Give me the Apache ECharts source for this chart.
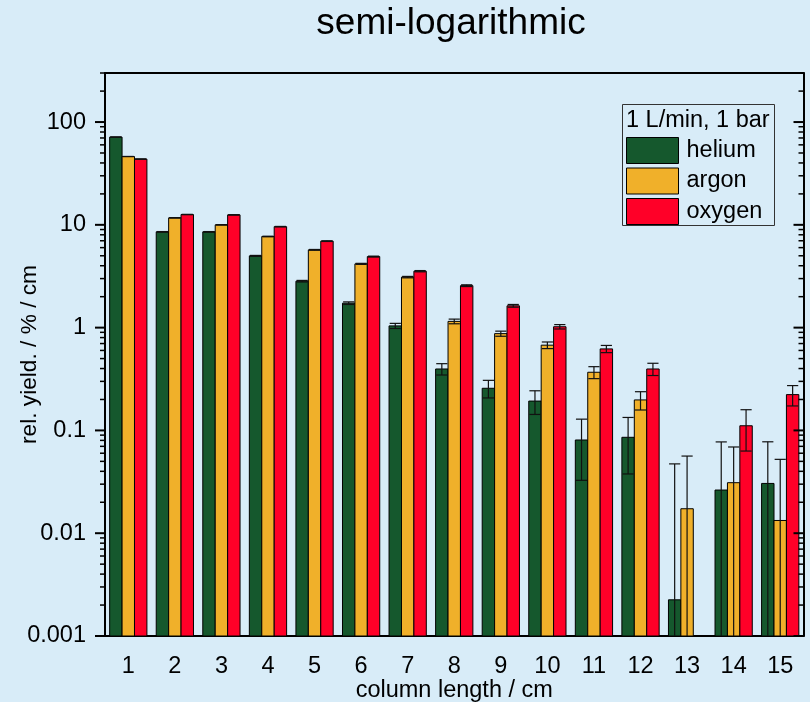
<!DOCTYPE html>
<html>
<head>
<meta charset="utf-8">
<script src="https://cdn.jsdelivr.net/npm/echarts@6/dist/echarts.min.js"></script>
<style>
  html, body { margin: 0; padding: 0; background: #d8ecf8; }
  #chart { width: 810px; height: 702px; }
</style>
</head>
<body>
<div id="chart"></div>
<script>
// Column lengths (cm)
const categories = ['1', '2', '3', '4', '5', '6', '7', '8', '9', '10', '11', '12', '13', '14', '15'];

// Relative yield per cm (%)
const helium = [71.4, 8.55, 8.55, 4.99, 2.83, 1.73, 1.04, 0.396, 0.257, 0.193, 0.0807, 0.0857, 0.00225, 0.0263, 0.0305];
const argon  = [46.2, 11.7, 10.0, 7.7, 5.71, 4.17, 3.10, 1.15, 0.874, 0.675, 0.368, 0.198, 0.0173, 0.0310, 0.0133];
const oxygen = [43.6, 12.6, 12.5, 9.6, 6.94, 4.91, 3.54, 2.56, 1.63, 1.02, 0.621, 0.396, null, 0.111, 0.223];

// Absolute errors of the yields
const heliumErr = [0.05, 0.05, 0.05, 0.05, 0.05, 0.05, 0.06, 0.05, 0.05, 0.05, 0.048, 0.048, 0.045, 0.051, 0.047];
const argonErr  = [0.05, 0.05, 0.05, 0.05, 0.05, 0.05, 0.05, 0.06, 0.05, 0.05, 0.049, 0.04, 0.039, 0.038, 0.039];
const oxygenErr = [0.05, 0.05, 0.05, 0.05, 0.05, 0.05, 0.05, 0.05, 0.05, 0.05, 0.05, 0.054, null, 0.048, 0.05];

// Log axis range, decade ticks and their labels
const yMin = 0.001;
const yMax = 300;
const decades = [0.001, 0.01, 0.1, 1, 10, 100];
const decadeLabels = ['0.001', '0.01', '0.1', '1', '10', '100'];
const minorMultiples = [2, 3, 4, 5, 6, 7, 8, 9];

const colors = { helium: '#15582d', argon: '#f0b02a', oxygen: '#ff0028' };
const FONT = '"Liberation Sans", Arial, Helvetica, sans-serif';
const FS = 23.5;

// Frame ticks: [x, value, isMajor]
const frameTicks = [];
decades.forEach(d => {
  frameTicks.push([0, d, 1]);
  minorMultiples.forEach(m => {
    const v = d * m;
    if (v <= yMax * 1.0001) frameTicks.push([0, v, 0]);
  });
});

function seriesData(vals) {
  const out = [];
  vals.forEach((v, i) => { if (v != null) out.push([i, v]); });
  return out;
}

function errData(vals, errs) {
  const out = [];
  vals.forEach((v, i) => {
    if (v != null && errs[i] != null) out.push([i, v, errs[i]]);
  });
  return out;
}

function slotWidth(api) {
  return api.size([1, 1])[0] * 0.8 / 3;
}

// Bars rising from the bottom of the log axis; offset is the slot (-1, 0, 1)
function barRenderer(offset) {
  return function (params, api) {
    const i = api.value(0), v = api.value(1);
    const cs = params.coordSys;
    const bw = slotWidth(api);
    const p = api.coord([i, v]);
    const cx = p[0] + offset * bw;
    const bottom = cs.y + cs.height;
    return {
      type: 'rect',
      shape: { x: cx - bw / 2, y: p[1], width: bw, height: bottom - p[1] },
      style: { fill: api.visual('color'), stroke: '#000', lineWidth: 1 }
    };
  };
}

// Error bars: vertical whisker with caps, running to the axis floor when the lower end is off-scale
function errorRenderer(offset) {
  return function (params, api) {
    const i = api.value(0), v = api.value(1), e = api.value(2);
    const cs = params.coordSys;
    const bw = slotWidth(api);
    const cx = api.coord([i, v])[0] + offset * bw;
    const yTop = api.coord([i, v + e])[1];
    const low = v - e;
    const hasLow = low > yMin;
    const yBot = hasLow ? api.coord([i, low])[1] : cs.y + cs.height;
    const half = bw * 0.45;
    const st = { stroke: '#111', lineWidth: 1.2 };
    const children = [
      { type: 'line', shape: { x1: cx, y1: yTop, x2: cx, y2: yBot }, style: st },
      { type: 'line', shape: { x1: cx - half, y1: yTop, x2: cx + half, y2: yTop }, style: st }
    ];
    if (hasLow) {
      children.push({ type: 'line', shape: { x1: cx - half, y1: yBot, x2: cx + half, y2: yBot }, style: st });
    }
    return { type: 'group', children: children };
  };
}

// Ticks on the vertical frame sides: outward on the left, inward on the right
function frameTickRenderer(params, api) {
  const cs = params.coordSys;
  const y = api.coord([0, api.value(1)])[1];
  const major = api.value(2) === 1;
  const len = major ? 10 : 5;
  const st = { stroke: '#000', lineWidth: major ? 2 : 1.5 };
  const right = cs.x + cs.width;
  return {
    type: 'group',
    children: [
      { type: 'line', shape: { x1: cs.x - len, y1: y, x2: cs.x, y2: y }, style: st },
      { type: 'line', shape: { x1: right - len, y1: y, x2: right, y2: y }, style: st }
    ]
  };
}

const chart = echarts.init(document.getElementById('chart'), null, { renderer: 'canvas' });

const option = {
  backgroundColor: '#d8ecf8',
  animation: false,
  textStyle: { fontFamily: FONT },
  grid: { left: 105, top: 73, width: 698.5, height: 563, containLabel: false, outerBoundsMode: 'none' },
  legend: {
    data: ['helium', 'argon', 'oxygen'],
    orient: 'vertical',
    left: 626,
    top: 137,
    padding: 0,
    itemWidth: 52,
    itemHeight: 26,
    itemGap: 3.5,
    icon: 'rect',
    itemStyle: { borderColor: '#000', borderWidth: 1 },
    textStyle: { fontSize: FS, color: '#000', fontFamily: FONT, padding: [0, 0, 0, 3] }
  },
  graphic: [
    {
      type: 'text',
      x: 451, y: 24,
      style: { text: 'semi-logarithmic', font: '37px ' + FONT, fill: '#000', textAlign: 'center', textVerticalAlign: 'middle' }
    },
    {
      type: 'rect',
      shape: { x: 622.5, y: 104.5, width: 152, height: 121 },
      style: { fill: 'none', stroke: '#333', lineWidth: 1 },
      z: 10
    },
    {
      type: 'text',
      x: 626, y: 121,
      style: { text: '1 L/min, 1 bar', font: FS + 'px ' + FONT, fill: '#000', textAlign: 'left', textVerticalAlign: 'middle' },
      z: 10
    }
  ],
  xAxis: [
    {
      type: 'category',
      data: categories,
      position: 'bottom',
      name: 'column length / cm',
      nameLocation: 'middle',
      nameGap: 43,
      nameMoveOverlap: false,
      nameTextStyle: { fontSize: FS, color: '#000', fontFamily: FONT },
      axisLine: { lineStyle: { color: '#000', width: 2 } },
      axisTick: { alignWithLabel: true, length: 10, lineStyle: { color: '#000', width: 2 } },
      axisLabel: { fontSize: FS, color: '#000', margin: 19, fontFamily: FONT },
      splitLine: { show: false }
    },
    {
      type: 'category',
      data: categories,
      position: 'top',
      axisLine: { lineStyle: { color: '#000', width: 2 } },
      axisTick: { alignWithLabel: true, inside: true, length: 10, lineStyle: { color: '#000', width: 2 } },
      axisLabel: { show: false },
      splitLine: { show: false }
    }
  ],
  yAxis: [
    {
      type: 'log',
      logBase: 10,
      min: yMin,
      max: yMax,
      position: 'left',
      name: 'rel. yield. / % / cm',
      nameLocation: 'middle',
      nameRotate: 90,
      nameGap: 64,
      nameMoveOverlap: false,
      nameTextStyle: { fontSize: 22.7, color: '#000', fontFamily: FONT },
      axisLine: { show: true, lineStyle: { color: '#000', width: 2 } },
      axisTick: { show: false },
      axisLabel: {
        fontSize: FS, color: '#000', margin: 19, fontFamily: FONT,
        formatter: function (v) {
          const p = Math.log10(v);
          const r = Math.round(p);
          if (Math.abs(p - r) > 1e-6) return '';
          return decadeLabels[r + 3] || '';
        }
      },
      splitLine: { show: false }
    },
    {
      type: 'log',
      logBase: 10,
      min: yMin,
      max: yMax,
      position: 'right',
      axisLine: { show: true, lineStyle: { color: '#000', width: 2 } },
      axisTick: { show: false },
      axisLabel: { show: false },
      splitLine: { show: false }
    }
  ],
  series: [
    { name: 'helium', type: 'custom', renderItem: barRenderer(-1), data: seriesData(helium), itemStyle: { color: colors.helium, borderColor: '#000', borderWidth: 1 }, clip: true, z: 2 },
    { name: 'argon', type: 'custom', renderItem: barRenderer(0), data: seriesData(argon), itemStyle: { color: colors.argon, borderColor: '#000', borderWidth: 1 }, clip: true, z: 2 },
    { name: 'oxygen', type: 'custom', renderItem: barRenderer(1), data: seriesData(oxygen), itemStyle: { color: colors.oxygen, borderColor: '#000', borderWidth: 1 }, clip: true, z: 2 },
    { type: 'custom', renderItem: errorRenderer(-1), data: errData(helium, heliumErr), clip: false, silent: true, z: 3 },
    { type: 'custom', renderItem: errorRenderer(0), data: errData(argon, argonErr), clip: false, silent: true, z: 3 },
    { type: 'custom', renderItem: errorRenderer(1), data: errData(oxygen, oxygenErr), clip: false, silent: true, z: 3 },
    { type: 'custom', renderItem: frameTickRenderer, data: frameTicks, clip: false, silent: true, z: 5 }
  ]
};

chart.setOption(option);
</script>
</body>
</html>
